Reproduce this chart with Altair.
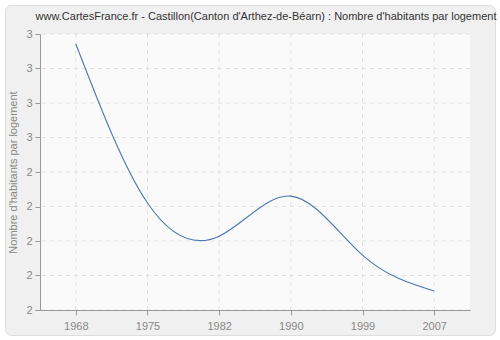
import altair as alt
import pandas as pd

years = [1968, 1975, 1982, 1990, 1999, 2007]
values = [2.771, 2.310, 2.214, 2.330, 2.159, 2.055]
y_ticks = [2.0, 2.1, 2.2, 2.3, 2.4, 2.5, 2.6, 2.7, 2.8]

df = pd.DataFrame({"annee": years, "valeur": values})
df_x = pd.DataFrame({"annee": years})
df_y = pd.DataFrame({"valeur": y_ticks})

W, H = 430, 276
FONT = "Liberation Sans"
xscale = alt.Scale(type="point", padding=0.5, domain=years)
yscale = alt.Scale(domain=[2.0, 2.8], nice=False, zero=False)

x_axis = alt.Axis(title=None, grid=False, labelAngle=0,
                  domainColor="#999999", tickColor="#999999",
                  tickSize=5, labelColor="#888888", labelFontSize=11,
                  labelFont=FONT, labelPadding=5, zindex=1)
y_axis = alt.Axis(values=y_ticks, format=".0f",
                  title="Nombre d'habitants par logement",
                  titleColor="#888888", titleFontSize=11,
                  titleFontWeight="normal", titleFont=FONT,
                  titlePadding=7, grid=False,
                  domainColor="#999999", tickColor="#999999",
                  tickSize=5, labelColor="#888888", labelFontSize=11,
                  labelFont=FONT, labelPadding=3, zindex=1)

frame = alt.Chart(pd.DataFrame({"a": [0]})).mark_rect(
    fill="#f0f0f0", stroke="#dddddd", strokeWidth=1, cornerRadius=6, clip=False
).encode(
    x=alt.value(-34.5), x2=alt.value(455.5), y=alt.value(-28.5), y2=alt.value(301.5)
)

plotbg = alt.Chart(pd.DataFrame({"a": [0]})).mark_rect(
    fill="#fafafa", stroke=None
).encode(
    x=alt.value(0), x2=alt.value(W), y=alt.value(0), y2=alt.value(H)
)

gridx = alt.Chart(df_x).mark_rule(
    color="#e2e2e2", strokeDash=[4, 4], strokeWidth=1
).encode(x=alt.X("annee:O", scale=xscale, axis=x_axis))

gridy = alt.Chart(df_y).mark_rule(
    color="#e2e2e2", strokeDash=[4, 4], strokeWidth=1
).encode(y=alt.Y("valeur:Q", scale=yscale, axis=y_axis))

line = alt.Chart(df).mark_line(
    interpolate="natural", color="#4a78b0", strokeWidth=1.1
).encode(
    x=alt.X("annee:O", scale=xscale, axis=x_axis),
    y=alt.Y("valeur:Q", scale=yscale, axis=y_axis),
)

chart = alt.layer(frame, plotbg, gridx, gridy, line).properties(
    width=W, height=H,
    title=alt.TitleParams(
        "www.CartesFrance.fr - Castillon(Canton d'Arthez-de-Béarn) : Nombre d'habitants par logement",
        fontSize=11, font=FONT, fontWeight="normal", color="#333333",
        anchor="middle", dx=11, offset=-17, frame="group",
    ),
    autosize=alt.AutoSizeParams(type="none"),
    padding={"left": 40, "top": 34, "right": 30, "bottom": 30},
).configure_view(stroke=None).configure(background="#ffffff")

chart.save("out.html", embed_options={"renderer": "svg", "actions": False})
